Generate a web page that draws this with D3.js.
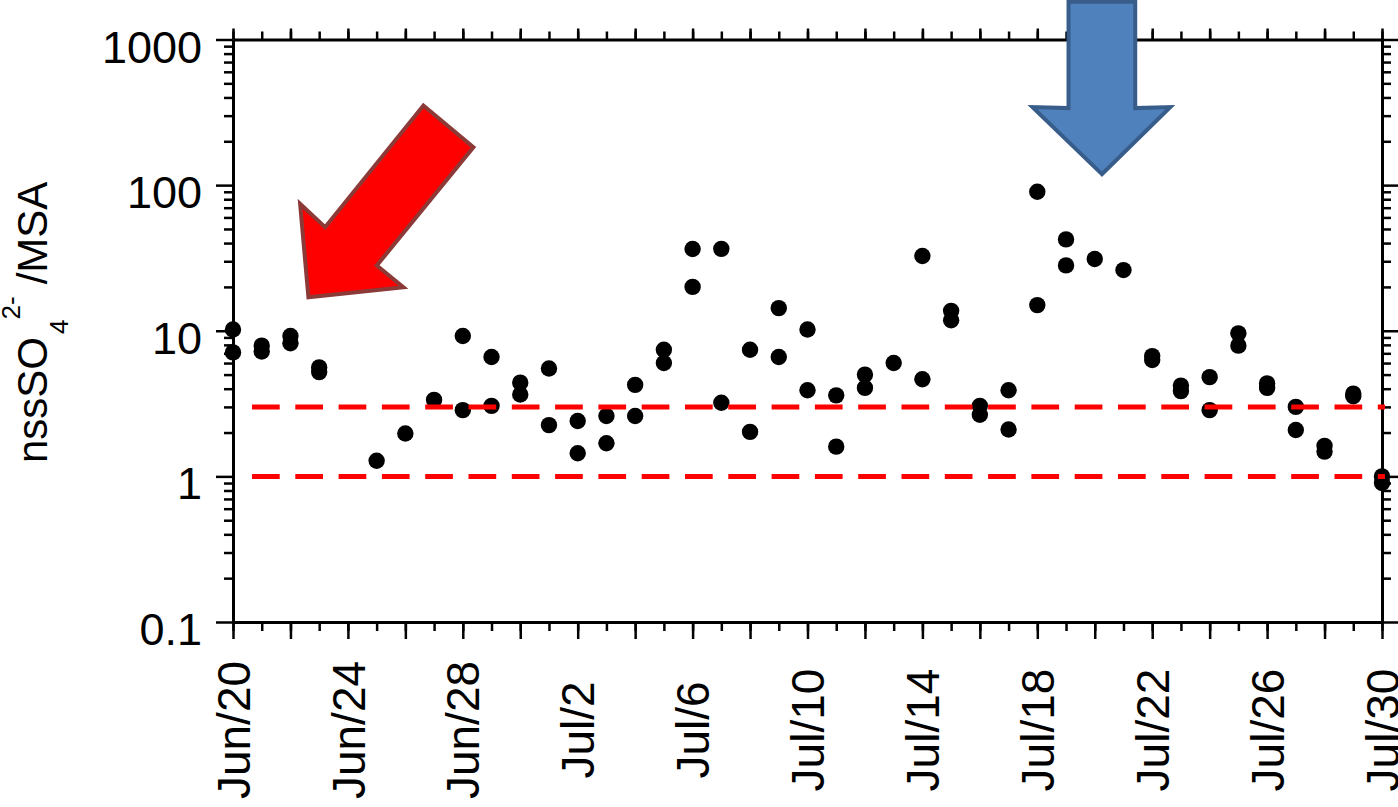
<!DOCTYPE html>
<html><head><meta charset="utf-8">
<script src="https://cdn.jsdelivr.net/npm/d3@7"></script>
<style>
body{margin:0;background:#fff}
svg{display:block}
text{font-family:"Liberation Sans",Arial,Helvetica,sans-serif;fill:#000}
</style>
</head><body>
<svg id="chart" width="1398" height="807"></svg>
<script>
// ---------- data ----------
const sampleDates = [
  "Jun/20","Jun/20","Jun/21","Jun/21","Jun/22","Jun/22","Jun/23","Jun/23",
  "Jun/25","Jun/26","Jun/27","Jun/28","Jun/28","Jun/29","Jun/29","Jun/30","Jun/30",
  "Jul/1","Jul/1","Jul/2","Jul/2","Jul/3","Jul/3","Jul/4","Jul/4","Jul/5","Jul/5",
  "Jul/6","Jul/6","Jul/7","Jul/7","Jul/8","Jul/8","Jul/9","Jul/9","Jul/10","Jul/10",
  "Jul/11","Jul/11","Jul/12","Jul/12","Jul/13","Jul/14","Jul/14","Jul/15","Jul/15",
  "Jul/16","Jul/16","Jul/17","Jul/17","Jul/18","Jul/18","Jul/19","Jul/19","Jul/20","Jul/21",
  "Jul/22","Jul/22","Jul/23","Jul/23","Jul/24","Jul/24","Jul/25","Jul/25","Jul/26","Jul/26",
  "Jul/27","Jul/27","Jul/28","Jul/28","Jul/29","Jul/29","Jul/30","Jul/30"
];
const ratioValues = [
  10.2, 7.1, 7.9, 7.2, 9.2, 8.2, 5.6, 5.2,
  1.28, 1.97, 3.35, 9.2, 2.85, 6.6, 3.05, 4.4, 3.65,
  5.5, 2.25, 2.4, 1.44, 2.6, 1.69, 4.25, 2.6, 7.4, 6.0,
  36.4, 20.0, 36.5, 3.2, 7.4, 2.02, 14.3, 6.6, 10.2, 3.9,
  3.6, 1.6, 5.0, 4.05, 6.0, 32.6, 4.65, 13.7, 11.8,
  3.05, 2.65, 3.9, 2.1, 90, 15.0, 42.4, 28.1, 31.1, 26.1,
  6.7, 6.3, 4.2, 3.85, 4.8, 2.85, 9.6, 7.9, 4.35, 4.05,
  3.0, 2.08, 1.62, 1.48, 3.7, 3.55, 1.0, 0.9
];
const referenceLevels = [3, 1];
const xDomainDates = ["Jun/20", "Jul/30"];
const xLabelDates = ["Jun/20","Jun/24","Jun/28","Jul/2","Jul/6","Jul/10","Jul/14","Jul/18","Jul/22","Jul/26","Jul/30"];
const yDomain = [0.1, 1000];
const yTickValues = [0.1, 1, 10, 100, 1000];
const yTickLabels = ["0.1", "1", "10", "100", "1000"];
// annotation arrow tips (date, hour offset, value)
const redArrowTip = {date: "Jun/22", hours: 15, value: 17};
const blueArrowTip = {date: "Jul/20", hours: 6, value: 119};

// ---------- setup ----------
const parse = d3.utcParse("%b/%d");
const fmt = d3.utcFormat("%b/%-d");
const svg = d3.select("#chart");

const plot = {left: 233, right: 1382, top: 39.5, bottom: 622};
const x = d3.scaleUtc().domain(xDomainDates.map(parse)).range([plot.left, plot.right]);
const y = d3.scaleLog().domain(yDomain).range([plot.bottom, plot.top]);

const allDays = d3.utcDay.range(x.domain()[0], d3.utcDay.offset(x.domain()[1], 1));
const evenDays = allDays.filter((d, i) => i % 2 === 0);
const labelDays = xLabelDates.map(parse);
const yMinor = [];
for (let e = -1; e < 3; e++) for (let m = 2; m <= 9; m++) yMinor.push(m * Math.pow(10, e));

function styleAxis(g, width) {
  g.selectAll(".domain").attr("stroke", "#000").attr("stroke-width", 3);
  g.selectAll(".tick line").attr("stroke", "#000").attr("stroke-width", width || 2.5);
}

// bottom axis
svg.append("g").attr("transform", `translate(0,${plot.bottom})`)
  .call(d3.axisBottom(x).tickValues(allDays).tickSize(9).tickSizeOuter(0).tickFormat(""))
  .call(g => { styleAxis(g); g.select(".domain").remove(); });
svg.append("g").attr("transform", `translate(0,${plot.bottom})`)
  .call(d3.axisBottom(x).tickValues(evenDays).tickSize(17).tickSizeOuter(0).tickFormat(""))
  .call(g => styleAxis(g));
const xl = svg.append("g").attr("transform", `translate(0,${plot.bottom})`)
  .call(d3.axisBottom(x).tickValues(labelDays).tickSize(0).tickFormat(fmt));
xl.select(".domain").remove();
xl.attr("font-family", null);
xl.selectAll(".tick text")
  .attr("font-size", 46).attr("fill", "#000")
  .attr("text-anchor", "middle")
  .attr("y", 0).attr("x", 0).attr("dy", "0.35em")
  .attr("transform", "translate(0,108) rotate(-90)");

// top axis
svg.append("g").attr("transform", `translate(0,${plot.top})`)
  .call(d3.axisTop(x).tickValues(allDays).tickSize(8).tickSizeOuter(0).tickFormat(""))
  .call(g => { styleAxis(g); g.select(".domain").remove(); });
svg.append("g").attr("transform", `translate(0,${plot.top})`)
  .call(d3.axisTop(x).tickValues(evenDays).tickSize(11).tickSizeOuter(0).tickFormat(""))
  .call(g => styleAxis(g));

// left axis
svg.append("g").attr("transform", `translate(${plot.left},0)`)
  .call(d3.axisLeft(y).tickValues(yMinor).tickSize(9).tickSizeOuter(0).tickFormat(""))
  .call(g => { styleAxis(g); g.select(".domain").remove(); });
const yl = svg.append("g").attr("transform", `translate(${plot.left},0)`)
  .call(d3.axisLeft(y).tickValues(yTickValues).tickSize(17).tickSizeOuter(0)
    .tickFormat((d, i) => yTickLabels[i]))
  .call(g => styleAxis(g));
yl.attr("font-family", null);
yl.selectAll(".tick text").attr("font-size", 45).attr("fill", "#000")
  .attr("x", -31).attr("dy", "0.5em");

// right axis
svg.append("g").attr("transform", `translate(${plot.right},0)`)
  .call(d3.axisRight(y).tickValues(yMinor).tickSize(9).tickSizeOuter(0).tickFormat(""))
  .call(g => { styleAxis(g); g.select(".domain").remove(); });
svg.append("g").attr("transform", `translate(${plot.right},0)`)
  .call(d3.axisRight(y).tickValues(yTickValues).tickSize(16).tickSizeOuter(0).tickFormat(""))
  .call(g => styleAxis(g));

// y title
const title = svg.append("text")
  .attr("transform", "translate(47,463) rotate(-90)")
  .attr("font-size", 42).attr("text-anchor", "start");
title.append("tspan").text("nssSO");
title.append("tspan").attr("font-size", 26).attr("dx", 3).attr("dy", 21).text("4");
title.append("tspan").attr("font-size", 26).attr("dy", -48).text("2-");
title.append("tspan").attr("dx", 12).attr("dy", 27).text("/MSA");

// points
svg.append("g").selectAll("circle")
  .data(sampleDates.map((d, i) => ({date: parse(d), value: ratioValues[i]})))
  .join("circle")
  .attr("cx", d => x(d.date))
  .attr("cy", d => y(d.value))
  .attr("r", 8.2)
  .attr("fill", "#000");

// reference dashed lines
svg.append("g").selectAll("line")
  .data(referenceLevels)
  .join("line")
  .attr("x1", x.range()[0] + 19)
  .attr("x2", x.range()[1] + 3)
  .attr("y1", d => y(d)).attr("y2", d => y(d))
  .attr("stroke", "#ff0000").attr("stroke-width", 5)
  .attr("stroke-dasharray", "27.7 15.6");

// annotation arrows
const redShape = [[0,0],[-8.3,-93.4],[16.7,-70],[115,-191.7],[165,-150],[68.4,-31.7],[95,-10]];
const blueShape = [[0,0],[-69.4,-67],[-33.4,-66],[-33.4,-172.3],[33.3,-172.3],[33.3,-66],[68.3,-67]];
function drawArrow(tip, shape, fill, stroke) {
  const tx = x(d3.utcHour.offset(parse(tip.date), tip.hours));
  const ty = y(tip.value);
  svg.append("polygon")
    .attr("points", shape.map(p => [tx + p[0], ty + p[1]].join(",")).join(" "))
    .attr("fill", fill).attr("stroke", stroke).attr("stroke-width", 4)
    .attr("stroke-linejoin", "miter");
}
drawArrow(redArrowTip, redShape, "#ff0000", "#8c3a38");
drawArrow(blueArrowTip, blueShape, "#4f81bd", "#385d8a");
</script>
</body></html>
